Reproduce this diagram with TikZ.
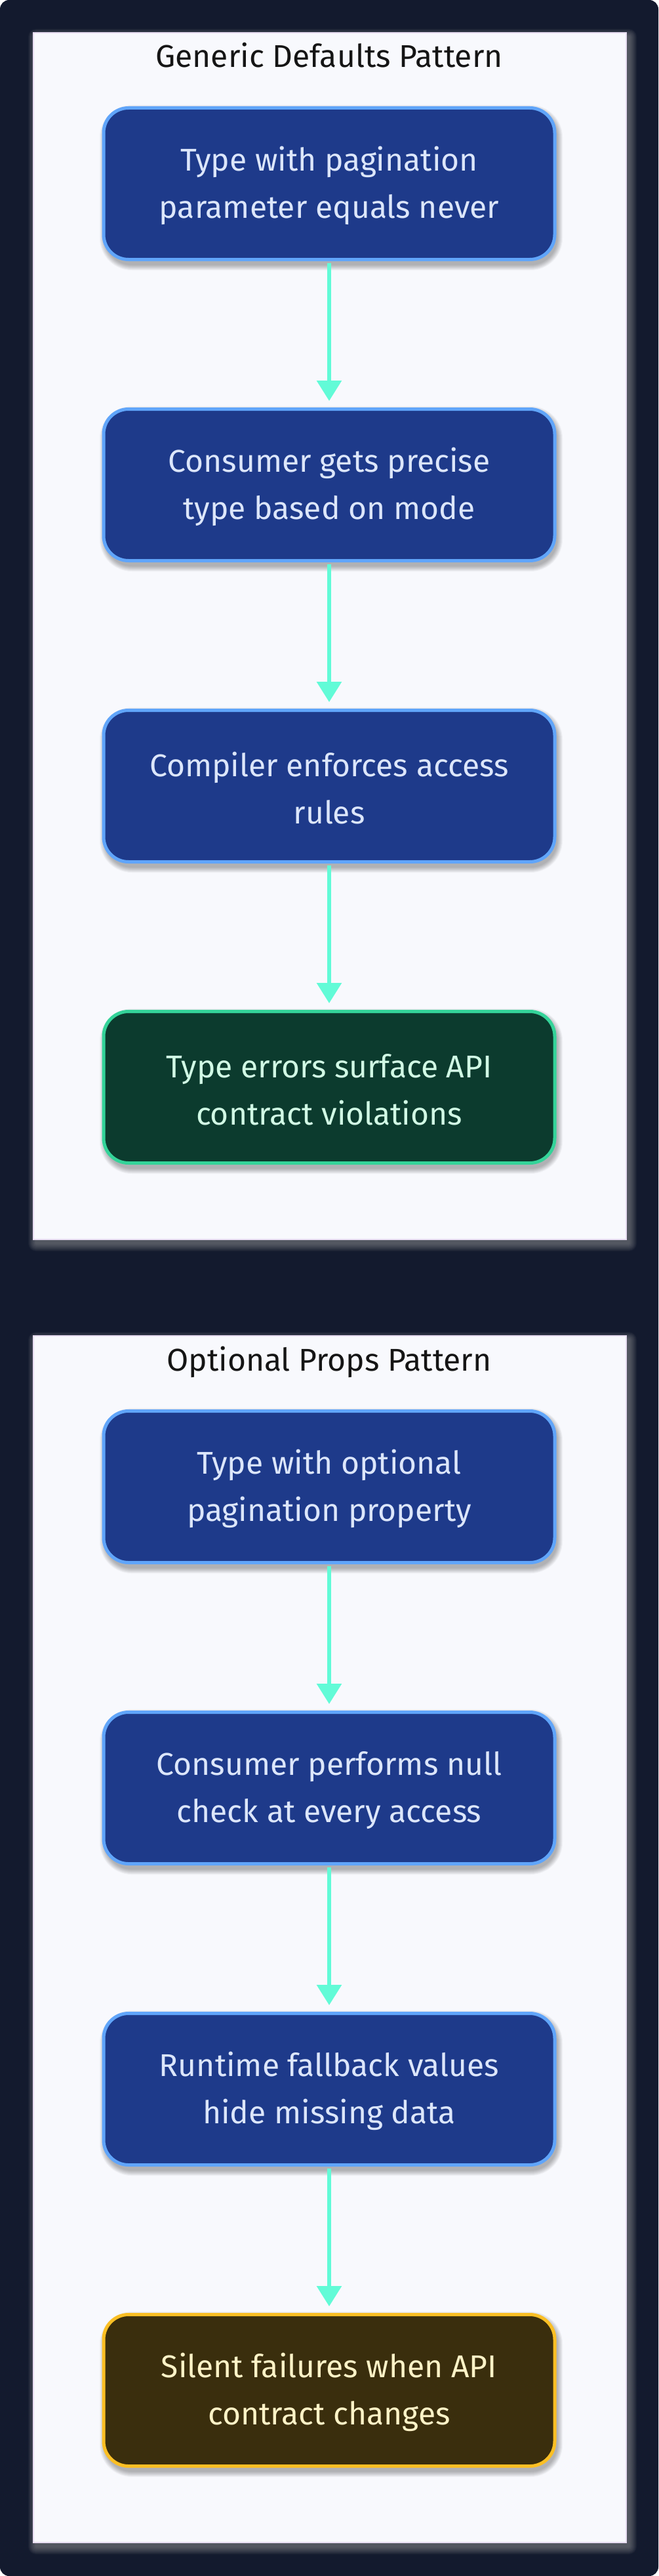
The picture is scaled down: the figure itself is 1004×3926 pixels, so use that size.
\documentclass[tikz,border=0pt]{standalone}
\usepackage{fontspec}
\setmainfont{Fira Sans}
\usetikzlibrary{arrows.meta}
\definecolor{bgnavy}{HTML}{131A2E}
\definecolor{panelfill}{HTML}{F8F9FD}
\definecolor{panelline}{HTML}{E8DDF2}
\definecolor{bluefill}{HTML}{1E3A8A}
\definecolor{blueline}{HTML}{60A5FA}
\definecolor{bluetext}{HTML}{DCE6FB}
\definecolor{greenfill}{HTML}{0C3B2E}
\definecolor{greenline}{HTML}{34D399}
\definecolor{greentext}{HTML}{D1FAE5}
\definecolor{amberfill}{HTML}{3A2E0D}
\definecolor{amberline}{HTML}{FBBF24}
\definecolor{ambertext}{HTML}{FEF3C7}
\definecolor{arrowc}{HTML}{62FBD7}
\definecolor{titletext}{HTML}{151515}
\newcommand{\toplift}{\rule{0pt}{44pt}}
\tikzset{
  stepbox/.style={rounded corners=38pt, minimum width=688pt, minimum height=231pt,
    line width=5pt, align=center, inner sep=0pt,
    font=\fontsize{48}{72}\selectfont},
  bluebox/.style={stepbox, fill=bluefill, draw=blueline, text=bluetext},
  greenbox/.style={stepbox, fill=greenfill, draw=greenline, text=greentext},
  amberbox/.style={stepbox, fill=amberfill, draw=amberline, text=ambertext},
  paneltitle/.style={anchor=base, inner sep=0pt, text=titletext,
    font=\fontsize{48}{58}\selectfont},
  flow/.style={draw=arrowc, line width=6pt, shorten <=3pt, shorten >=10pt,
    -{Triangle[width=37pt,length=31pt]}},
}
\newcommand{\panelshape}[2]{%
  \foreach \k in {1,...,12}{
    \fill[gray!70, opacity=0.05, rounded corners=\k pt]
      ({51+4-\k},{#1+6-\k}) rectangle ({955+4+\k},{#2+6+\k});
  }
  \fill[panelfill] (51,#1) rectangle (955,#2);
  \draw[panelline, line width=1.5pt] (51,#1) rectangle (955,#2);
}
\newcommand{\boxshadow}[1]{%
  \foreach \k in {1,...,9}{
    \fill[black, opacity=0.035, rounded corners={40+\k}]
      ({158+3-\k},{#1-117+6-\k}) rectangle ({846+3+\k},{#1+117+6+\k});
  }
}
\begin{document}
\begin{tikzpicture}[x=1pt,y=-1pt]
\useasboundingbox (0,0) rectangle (1004,3926);
\fill[white] (0,0) rectangle (1004,3926);
\fill[bgnavy, rounded corners=14pt] (0,0) rectangle (1004,3926);

% panel 1
\panelshape{50}{1889}
\node[paneltitle] (t1) at (502,103) {Generic Defaults Pattern};
\boxshadow{280}\boxshadow{739}\boxshadow{1198}\boxshadow{1657}
\node[bluebox] (a1) at (502,280) {\toplift Type with pagination\\parameter equals never};
\node[bluebox] (a2) at (502,739) {\toplift Consumer gets precise\\type based on mode};
\node[bluebox] (a3) at (502,1198) {\toplift Compiler enforces access\\rules};
\node[greenbox] (a4) at (502,1657) {\toplift Type errors surface API\\contract violations};
\draw[flow] (a1.south) -- (a2.north);
\draw[flow] (a2.south) -- (a3.north);
\draw[flow] (a3.south) -- (a4.north);

% panel 2
\panelshape{2036}{3875}
\node[paneltitle] (t2) at (502,2089) {Optional Props Pattern};
\boxshadow{2266}\boxshadow{2725}\boxshadow{3184}\boxshadow{3643}
\node[bluebox] (b1) at (502,2266) {\toplift Type with optional\\pagination property};
\node[bluebox] (b2) at (502,2725) {\toplift Consumer performs null\\check at every access};
\node[bluebox] (b3) at (502,3184) {\toplift Runtime fallback values\\hide missing data};
\node[amberbox] (b4) at (502,3643) {\toplift Silent failures when API\\contract changes};
\draw[flow] (b1.south) -- (b2.north);
\draw[flow] (b2.south) -- (b3.north);
\draw[flow] (b3.south) -- (b4.north);
\end{tikzpicture}
\end{document}
